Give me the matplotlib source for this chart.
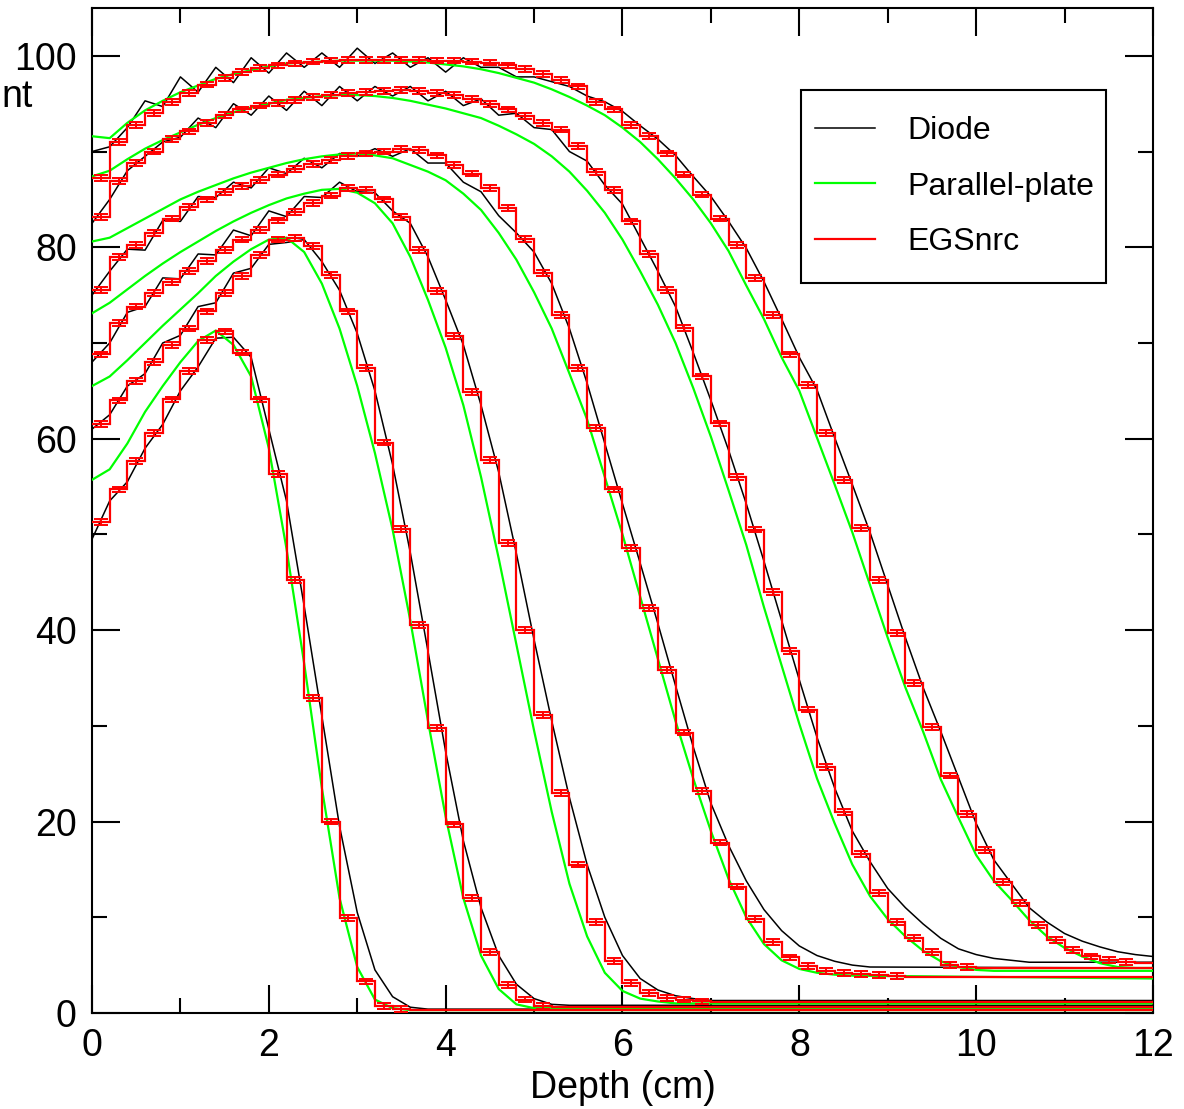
import numpy as np
import matplotlib
matplotlib.use("Agg")
import matplotlib.pyplot as plt
from matplotlib.lines import Line2D
from matplotlib.patches import Rectangle

plt.rcParams['font.family'] = ['Liberation Sans', 'DejaVu Sans']

STEP = 0.2     # sampling / bin width (cm)
X_END = 12.0   # the last value of each list holds out to this depth

# --- EGSnrc (red histogram, 0.2 cm bins; last bin runs to 12 cm) ---
egs_1 = [51.3, 54.7, 57.7, 60.6, 64.1, 67.1, 70.3, 71.2, 69.0, 64.1, 56.3, 45.2, 32.9, 20.0, 9.9, 3.3,
         0.7, 0.4, 0.3]
egs_2 = [61.5, 64.0, 66.0, 68.0, 69.8, 71.5, 73.3, 75.2, 77.0, 79.2, 80.8, 81.0, 80.1, 77.1, 73.3, 67.4,
         59.6, 50.6, 40.5, 29.8, 19.7, 12.0, 6.4, 2.9, 1.4, 0.7, 0.6]
egs_3 = [68.8, 72.1, 73.8, 75.2, 76.4, 77.5, 78.6, 79.7, 80.8, 81.8, 82.8, 83.7, 84.6, 85.4, 86.2, 86.0,
         85.0, 83.2, 79.7, 75.4, 70.7, 64.9, 57.8, 49.1, 40.0, 31.1, 23.0, 15.5, 9.5, 5.4, 3.1, 2.1, 1.6,
         1.4, 1.2, 1.1]
egs_4 = [75.5, 79.0, 80.2, 81.5, 83.0, 84.2, 85.0, 85.8, 86.4, 87.0, 87.6, 88.2, 88.7, 89.1, 89.5, 89.8,
         90.0, 90.3, 90.2, 89.6, 88.6, 87.7, 86.2, 84.1, 80.9, 77.3, 72.9, 67.4, 61.1, 54.7, 48.6, 42.3,
         35.8, 29.3, 23.2, 17.8, 13.2, 9.8, 7.4, 5.8, 4.9, 4.4, 4.2, 4.1, 4.0, 3.9, 3.8]
egs_5 = [83.2, 86.9, 88.8, 90.0, 91.3, 92.1, 93.0, 93.8, 94.4, 94.8, 95.1, 95.4, 95.7, 95.9, 96.1, 96.2,
         96.3, 96.4, 96.3, 96.1, 95.9, 95.5, 95.0, 94.4, 93.7, 93.0, 92.3, 90.6, 87.9, 86.0, 82.7, 79.3,
         75.5, 71.6, 66.5, 61.6, 56.0, 50.5, 44.0, 37.8, 31.7, 25.7, 21.0, 16.6, 12.5, 9.5, 7.8, 6.4, 5.0,
         4.8, 4.7]
egs_6 = [87.2, 91.0, 92.8, 94.0, 95.2, 96.1, 97.0, 97.7, 98.3, 98.7, 99.0, 99.2, 99.4, 99.5, 99.6, 99.6,
         99.6, 99.6, 99.6, 99.5, 99.5, 99.4, 99.3, 99.0, 98.6, 98.1, 97.5, 96.8, 95.2, 94.4, 92.8, 91.6,
         89.8, 87.6, 85.5, 83.0, 80.2, 76.8, 72.9, 68.8, 65.6, 60.6, 55.7, 50.7, 45.2, 39.7, 34.5, 29.9,
         24.8, 20.8, 17.0, 13.7, 11.5, 9.2, 7.6, 6.6, 5.9, 5.5, 5.3, 5.2]
EGS_ERR = 0.3

# --- Parallel-plate chamber (green), every 0.2 cm, last value at 12 cm ---
pp_1 = [55.7, 56.8, 59.5, 62.8, 65.5, 68.0, 70.2, 71.3, 69.8, 66.5, 59.0, 48.5, 36.5, 23.5, 12.0, 4.8,
        1.4, 0.5, 0.3, 0.3]
pp_2 = [65.5, 66.5, 68.2, 70.0, 71.8, 73.5, 75.2, 77.0, 78.5, 79.8, 80.8, 81.0, 79.5, 76.2, 71.5, 65.5,
        58.5, 50.5, 41.0, 30.5, 20.5, 12.0, 6.0, 2.5, 0.9, 0.5, 0.5]
pp_3 = [73.1, 74.2, 75.6, 77.0, 78.3, 79.5, 80.6, 81.7, 82.7, 83.6, 84.4, 85.1, 85.6, 86.0, 86.1, 85.7,
        84.6, 82.5, 79.0, 74.5, 69.5, 63.5, 56.0, 47.5, 38.5, 29.5, 21.0, 13.5, 8.0, 4.2, 2.3, 1.5, 1.2,
        1.0, 1.0]
pp_4 = [80.6, 81.0, 82.0, 83.0, 84.0, 85.0, 85.8, 86.5, 87.2, 87.8, 88.3, 88.8, 89.2, 89.5, 89.7, 89.8,
        89.6, 89.3, 88.6, 87.9, 87.0, 85.6, 83.9, 81.5, 78.7, 75.3, 71.5, 66.8, 62.0, 56.0, 50.0, 43.5,
        37.0, 30.5, 24.5, 19.0, 14.0, 10.0, 7.2, 5.5, 4.6, 4.2, 4.0, 3.9, 3.6]
pp_5 = [87.4, 88.0, 89.2, 90.3, 91.2, 92.0, 92.8, 93.5, 94.1, 94.6, 95.0, 95.4, 95.6, 95.8, 95.9, 95.9,
        95.8, 95.6, 95.3, 94.9, 94.5, 94.0, 93.5, 92.7, 91.8, 90.8, 89.5, 87.9, 85.9, 83.6, 80.8, 77.5,
        74.0, 70.0, 65.3, 60.2, 54.6, 48.9, 42.4, 36.3, 30.2, 24.5, 19.8, 15.5, 12.2, 9.8, 8.0, 6.5, 5.4,
        4.8, 4.5, 4.4, 4.4]
pp_6 = [91.6, 91.4, 93.0, 94.3, 95.3, 96.2, 96.9, 97.6, 98.1, 98.5, 98.9, 99.2, 99.3, 99.4, 99.5, 99.5,
        99.5, 99.5, 99.4, 99.3, 99.1, 98.9, 98.6, 98.2, 97.7, 97.2, 96.5, 95.7, 94.8, 93.8, 92.5, 91.0,
        89.2, 87.2, 85.0, 82.5, 79.6, 76.0, 72.5, 68.5, 65.0, 60.1, 55.2, 50.2, 44.7, 39.2, 34.0, 29.4,
        24.4, 20.4, 16.5, 13.8, 11.8, 9.7, 8.0, 6.8, 5.9, 5.2, 4.8, 4.7, 4.7]

# --- Diode (black), every 0.2 cm, last value at 12 cm ---
diode_1 = [49.5, 53.5, 55.5, 59.0, 61.5, 65.0, 67.5, 70.5, 70.6, 68.5, 61.0, 53.5, 42.5, 31.0, 19.5, 10.5,
           4.5, 1.7, 0.6, 0.4, 0.4]
diode_2 = [61.0, 62.5, 65.5, 66.8, 70.0, 70.8, 73.8, 74.2, 77.3, 77.8, 80.3, 80.5, 80.8, 78.5, 75.5, 71.0,
           65.0, 57.3, 48.1, 37.8, 27.3, 18.0, 11.0, 6.0, 3.0, 1.5, 0.9, 0.8, 0.8]
diode_3 = [68.0, 70.0, 73.2, 73.8, 76.8, 76.7, 79.3, 79.2, 81.8, 81.2, 83.8, 83.2, 85.3, 85.2, 86.8, 85.8,
           85.7, 83.8, 82.5, 79.0, 74.5, 69.8, 63.5, 56.5, 48.0, 39.0, 30.5, 22.5, 15.5, 10.0, 6.0, 3.6,
           2.4, 1.8, 1.5, 1.3, 1.3]
diode_4 = [75.0, 77.5, 79.8, 79.7, 82.8, 82.7, 85.3, 85.2, 86.8, 86.2, 88.3, 87.7, 89.3, 88.3, 89.8, 89.5,
           90.3, 89.5, 90.3, 88.8, 88.8, 86.8, 85.8, 83.3, 81.5, 79.5, 76.2, 71.5, 65.8, 59.5, 53.2, 47.0,
           40.7, 34.2, 27.8, 21.9, 17.5, 13.8, 10.8, 8.6, 7.0, 6.0, 5.4, 5.0, 4.8, 4.7]
diode_5 = [82.5, 85.0, 88.0, 89.5, 91.0, 91.5, 93.5, 92.5, 95.0, 93.8, 95.8, 94.3, 96.3, 94.8, 96.8, 95.3,
           96.8, 95.8, 96.8, 95.3, 96.3, 94.8, 95.5, 93.8, 94.0, 92.5, 92.3, 90.0, 89.0, 86.5, 84.5, 81.0,
           77.5, 73.8, 69.0, 64.0, 58.8, 53.2, 47.2, 41.0, 34.8, 28.8, 23.5, 19.0, 15.8, 13.0, 11.0, 9.3,
           7.8, 6.7, 6.1, 5.7, 5.5, 5.3, 5.3]
diode_6 = [90.0, 90.5, 92.5, 95.3, 94.7, 97.8, 96.2, 98.8, 97.2, 99.8, 98.2, 100.3, 98.8, 100.3, 98.8,
           100.8, 99.2, 100.3, 98.8, 99.8, 98.3, 99.8, 98.8, 98.8, 97.8, 97.8, 97.3, 96.8, 95.8, 95.2, 94.2,
           92.7, 91.3, 89.6, 87.4, 85.3, 82.7, 79.9, 76.4, 72.5, 68.5, 65.1, 60.1, 55.2, 50.2, 44.7, 39.2,
           34.0, 29.4, 24.6, 19.8, 16.0, 13.5, 11.0, 9.5, 8.3, 7.5, 6.9, 6.4, 6.1, 5.9]

diode_curves = [diode_1, diode_2, diode_3, diode_4, diode_5, diode_6]
pp_curves = [pp_1, pp_2, pp_3, pp_4, pp_5, pp_6]
egs_curves = [egs_1, egs_2, egs_3, egs_4, egs_5, egs_6]


def sample_depths(vals):
    # regular 0.2 cm samples, the final value sits at the end of the axis
    n = len(vals)
    x = np.round(np.arange(n - 1) * STEP, 1)
    return np.append(x, X_END)


def bin_edges(vals):
    n = len(vals)
    e = np.round(np.arange(n) * STEP, 1)
    return np.append(e, X_END)


fig = plt.figure(figsize=(11.84, 11.09), dpi=100)
ax = fig.add_axes([0.0777, 0.0866, 0.8961, 0.9062])

for d in diode_curves:
    ax.plot(sample_depths(d), d, color="black", lw=1.1, zorder=2)
for p in pp_curves:
    ax.plot(sample_depths(p), p, color="#00ff00", lw=1.6, zorder=3)
for e in egs_curves:
    edges = bin_edges(e)
    ax.stairs(e, edges, color="#ff0000", lw=1.6, baseline=None, zorder=4)
    centers = (edges[:-2] + edges[1:-1]) / 2
    ax.errorbar(centers, e[:-1], yerr=EGS_ERR, fmt="none", ecolor="#ff0000",
                elinewidth=1.4, capsize=5, capthick=1.4, zorder=4)

ax.set_xlim(0, 12)
ax.set_ylim(0, 105)
ax.set_xticks(np.arange(0, 13, 2))
ax.set_xticks(np.arange(1, 12, 2), minor=True)
ax.set_yticks(np.arange(0, 101, 20))
ax.set_yticks(np.arange(10, 101, 20), minor=True)
ax.tick_params(which="both", direction="in", top=True, right=True, width=1.5,
               labelsize=27, pad=11)
ax.tick_params(which="major", length=20)
ax.tick_params(which="minor", length=11)
for s in ax.spines.values():
    s.set_linewidth(1.5)

ax.set_xlabel("Depth (cm)", fontsize=27, labelpad=4)
# only the tail of the y label shows at the left edge
fig.text(1 / 1184, 1 - 97 / 1109, "nt", fontsize=27, ha="left", va="center")

# legend box drawn separately so its padding can match the original
ax.add_patch(Rectangle((0.668, 0.726), 0.288, 0.192, transform=ax.transAxes,
                       facecolor="white", edgecolor="black", lw=1.5, zorder=6))
handles = [Line2D([], [], color="black", lw=1.1),
           Line2D([], [], color="#00ff00", lw=1.6),
           Line2D([], [], color="#ff0000", lw=1.6)]
leg = ax.legend(handles, ["Diode", "Parallel-plate", "EGSnrc"], loc="upper left",
                bbox_to_anchor=(0.6814, 0.8925), borderaxespad=0, borderpad=0,
                fontsize=23, handlelength=1.88, handletextpad=1.0,
                labelspacing=0.8, frameon=False)
leg.set_zorder(7)

fig.savefig("out.png", dpi=100)
